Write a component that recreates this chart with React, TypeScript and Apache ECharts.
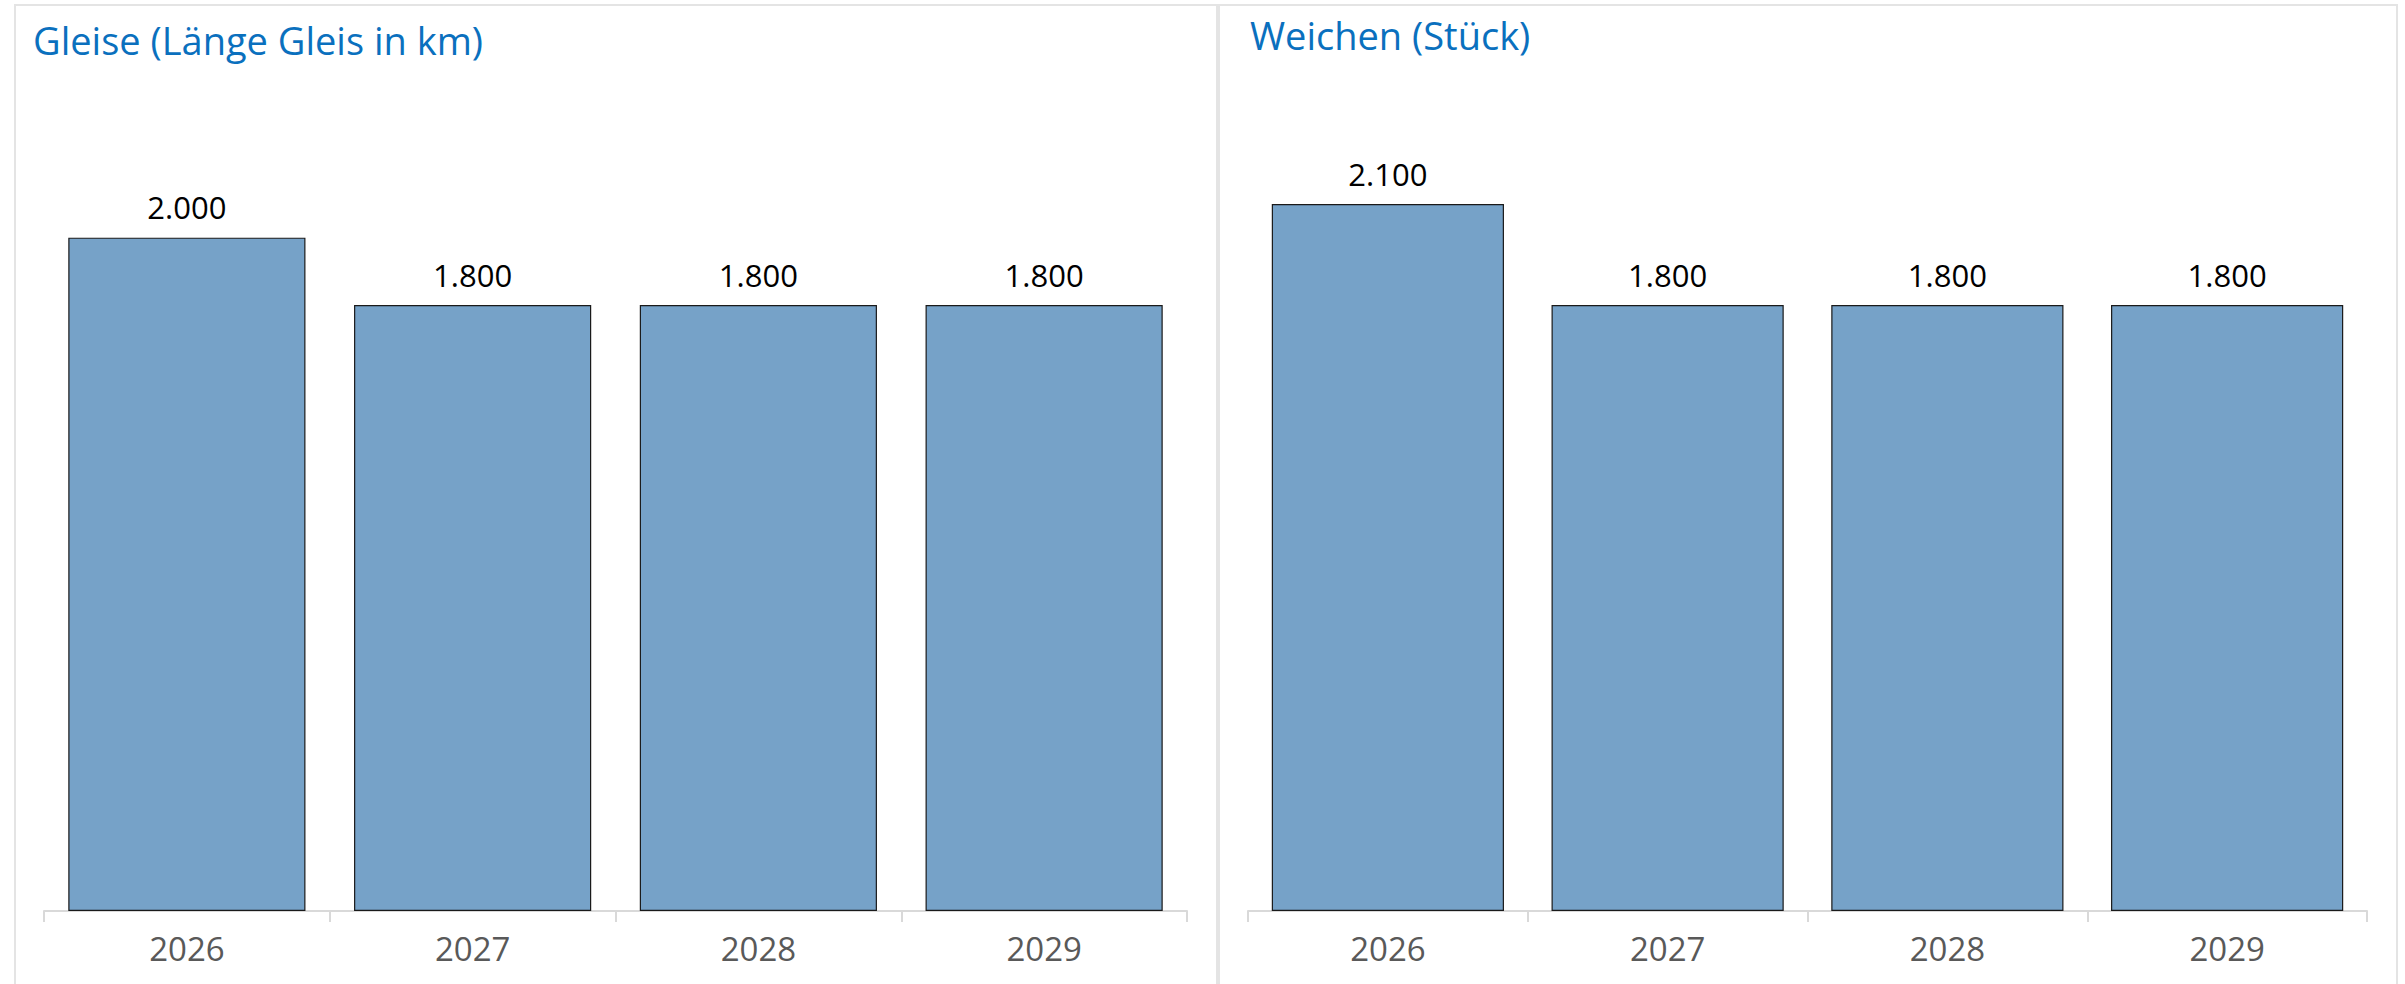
import React, { useEffect, useRef } from "react";
import * as echarts from "echarts";

const categories = ["2026", "2027", "2028", "2029"];
const gleiseValues = [2000, 1800, 1800, 1800];
const weichenValues = [2100, 1800, 1800, 1800];
const titles = ["Gleise (Länge Gleis in km)", "Weichen (Stück)"];

const FONT = "'Open Sans', 'Noto Sans', sans-serif";
const BAR_COLOR = "#76A2C8";
const TITLE_COLOR = "#0A70BE";

function fmt(v: number): string {
  return String(Math.round(v)).replace(/\B(?=(\d{3})+(?!\d))/g, ".");
}

export default function App() {
  const ref = useRef<HTMLDivElement>(null);

  useEffect(() => {
    document.body.style.margin = "0";
    if (!ref.current) return;
    const chart = echarts.init(ref.current, undefined, { renderer: "svg" });

    const xAxisCommon = {
      type: "category" as const,
      data: categories,
      axisLine: { lineStyle: { color: "#D9D9D9", width: 2 } },
      axisTick: { show: true, length: 11, interval: 0, lineStyle: { color: "#D9D9D9", width: 2 } },
      axisLabel: { color: "#595959", fontSize: 33, fontFamily: FONT, margin: 21 },
    };
    const yAxisCommon = {
      type: "value" as const,
      min: 0,
      max: 2400,
      show: false,
      splitLine: { show: false },
    };
    const seriesCommon = {
      type: "bar" as const,
      barCategoryGap: "17%",
      itemStyle: { color: BAR_COLOR, borderColor: "#1A1A1A", borderWidth: 1.2 },
      label: {
        show: true,
        position: "top" as const,
        distance: 15,
        color: "#000000",
        fontSize: 31,
        fontFamily: FONT,
        formatter: (p: any) => fmt(p.value),
      },
    };

    chart.setOption({
      animation: false,
      backgroundColor: "#FFFFFF",
      title: [
        {
          text: titles[0],
          left: 33,
          top: 21,
          textStyle: { color: TITLE_COLOR, fontSize: 38, fontWeight: "normal", fontFamily: FONT },
          padding: 0,
        },
        {
          text: titles[1],
          left: 1250,
          top: 16,
          textStyle: { color: TITLE_COLOR, fontSize: 38, fontWeight: "normal", fontFamily: FONT },
          padding: 0,
        },
      ],
      graphic: [
        {
          type: "rect",
          shape: { x: 15, y: 5, width: 1202, height: 1100 },
          style: { fill: "none", stroke: "#E4E4E4", lineWidth: 2 },
          silent: true,
          z: -1,
        },
        {
          type: "rect",
          shape: { x: 1219, y: 5, width: 1178, height: 1100 },
          style: { fill: "none", stroke: "#E4E4E4", lineWidth: 2 },
          silent: true,
          z: -1,
        },
      ],
      grid: [
        { left: 44, right: 2405 - 1187, top: 103, bottom: 73, containLabel: false },
        { left: 1248, right: 2405 - 2367, top: 103, bottom: 73, containLabel: false },
      ],
      xAxis: [
        { ...xAxisCommon, gridIndex: 0 },
        { ...xAxisCommon, gridIndex: 1 },
      ],
      yAxis: [
        { ...yAxisCommon, gridIndex: 0 },
        { ...yAxisCommon, gridIndex: 1 },
      ],
      series: [
        { ...seriesCommon, name: titles[0], xAxisIndex: 0, yAxisIndex: 0, data: gleiseValues },
        { ...seriesCommon, name: titles[1], xAxisIndex: 1, yAxisIndex: 1, data: weichenValues },
      ],
    });

    return () => {
      chart.dispose();
    };
  }, []);

  return <div ref={ref} style={{ width: 2405, height: 984 }} />;
}
